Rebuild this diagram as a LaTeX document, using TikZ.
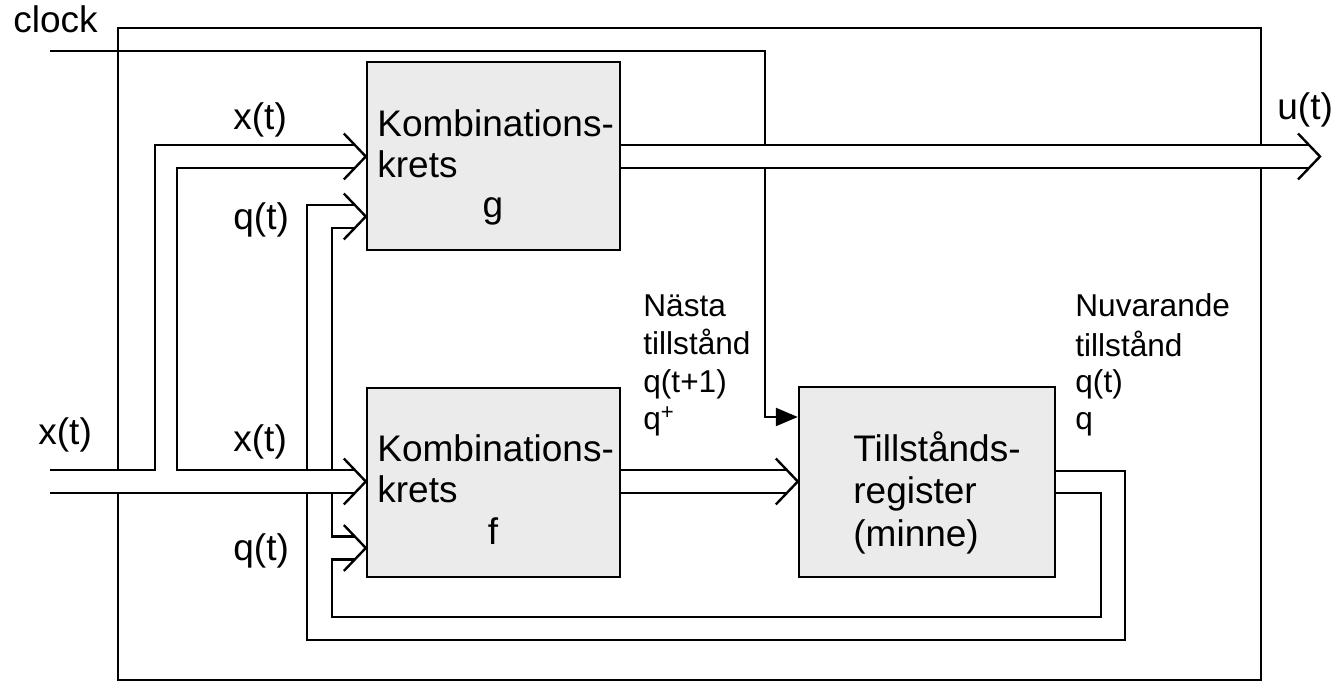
\documentclass[tikz,border=0pt]{standalone}
\usepackage{fontspec}
\setmainfont{Liberation Sans}
\usetikzlibrary{arrows.meta,calc}
\newcommand\mychev[1]{\draw[wire] (#1) ++(-22,-23) -- (#1) -- ++(-22,23);}
\begin{document}
\begin{tikzpicture}[x=0.5pt,y=-0.5pt,
  wire/.style={line width=1.2pt, line join=miter},
  blk/.style={draw, line width=1.2pt, fill=black!8, inner sep=0pt},
  big/.style={font=\fontsize{18.5}{22}\selectfont, inner sep=0pt, anchor=base west},
  small/.style={font=\fontsize{15.8}{19}\selectfont, inner sep=0pt, anchor=base west}]
\useasboundingbox (0,0) rectangle (1334,683);

% frame and blocks
\node[draw, line width=1.2pt, minimum width=571.5pt, minimum height=326pt, inner sep=0pt] (sys) at (689.5,354) {};
\node[blk, minimum width=126.5pt, minimum height=94pt] (g) at (493.5,156) {};
\node[blk, minimum width=126.5pt, minimum height=94.5pt] (f) at (493.5,482.5) {};
\node[blk, minimum width=128pt, minimum height=95pt] (r) at (927,482) {};

% arrow tip positions
\coordinate (gx) at (g.west |- 0,156.5);
\coordinate (gq) at (g.west |- 0,216.5);
\coordinate (fx) at (f.west |- 0,481.5);
\coordinate (fq) at (f.west |- 0,548);
\coordinate (rin) at (r.west |- 0,481.5);
\coordinate (uout) at (1320,156.5);
\coordinate (clk) at (50,51);
\coordinate (ckd) at (765,417);
\coordinate (xin) at (50,470);
\coordinate (xin2) at (50,493);

% clock
\draw[wire, -{Triangle[length=11pt,width=9pt]}] (clk) -- (765,51) -- (ckd) -- (r.west |- ckd);

% feedback q
\draw[wire] ($(r.east)+(0,-11)$) -- (1125,471) -- (1125,640) -- (307,640) -- (307,205) -- ($(gq)+(-11,-11.5)$);
\draw[wire] ($(r.east)+(0,11)$) -- (1101,493) -- (1101,617) -- (332,617) -- (332,559.5) -- ($(fq)+(-11,11.5)$);
\draw[wire] ($(fq)+(-11,-11.5)$) -- (332,536.5) -- (332,228) -- ($(gq)+(-11,11.5)$);

% bus interiors hide crossings
\fill[white] (55,471) rectangle (f.west |- 0,492);
\fill[white] ($(g.east |- 0,146)+(1,0)$) rectangle (1305,167);

% x(t) bus
\draw[wire] (xin) -- (155,470) -- (155,145) -- ($(gx)+(-11,-11.5)$);
\draw[wire] ($(gx)+(-11,11.5)$) -- (177,168) -- (177,470) -- ($(fx)+(-11,-11.5)$);
\draw[wire] (xin2) -- ($(fx)+(-11,11.5)$);

% f -> register
\draw[wire] (f.east |- 0,470) -- ($(rin)+(-11,-11.5)$);
\draw[wire] (f.east |- 0,493) -- ($(rin)+(-11,11.5)$);

% u(t)
\draw[wire] (g.east |- 0,145) -- ($(uout)+(-11,-11.5)$);
\draw[wire] (g.east |- 0,168) -- ($(uout)+(-11,11.5)$);

% chevron heads
\mychev{gx}
\mychev{gq}
\mychev{fx}
\mychev{fq}
\mychev{rin}
\mychev{uout}

% labels
\node[big] (lclk) at (13,33) {clock};
\node[big] (lx1) at (233,130) {x(t)};
\node[big] (lq1) at (233,230) {q(t)};
\node[big] (lx0) at (38,445) {x(t)};
\node[big] (lx2) at (233,452) {x(t)};
\node[big] (lq2) at (233,561) {q(t)};
\node[big] (lu) at (1277,120) {u(t)};

\node[big] (g1) at (377,137) {Kombinations-};
\node[big] (g2) at (377,178) {krets};
\node[big, anchor=base] (g3) at (493,218) {g};

\node[big] (f1) at (377,462) {Kombinations-};
\node[big] (f2) at (377,503) {krets};
\node[big, anchor=base] (f3) at (493,545) {f};

\node[big] (r1) at (853,462) {Tillstånds-};
\node[big] (r2) at (853,504) {register};
\node[big] (r3) at (853,547) {(minne)};

\node[small] (n1) at (643,317) {Nästa};
\node[small] (n2) at (643,355) {tillstånd};
\node[small] (n3) at (643,393) {q(t+1)};
\node[small] (n4) at (643,430) {q\textsuperscript{+}};

\node[small] (m1) at (1075,317) {Nuvarande};
\node[small] (m2) at (1075,357) {tillstånd};
\node[small] (m3) at (1075,393) {q(t)};
\node[small] (m4) at (1075,430) {q};
\end{tikzpicture}
\end{document}
